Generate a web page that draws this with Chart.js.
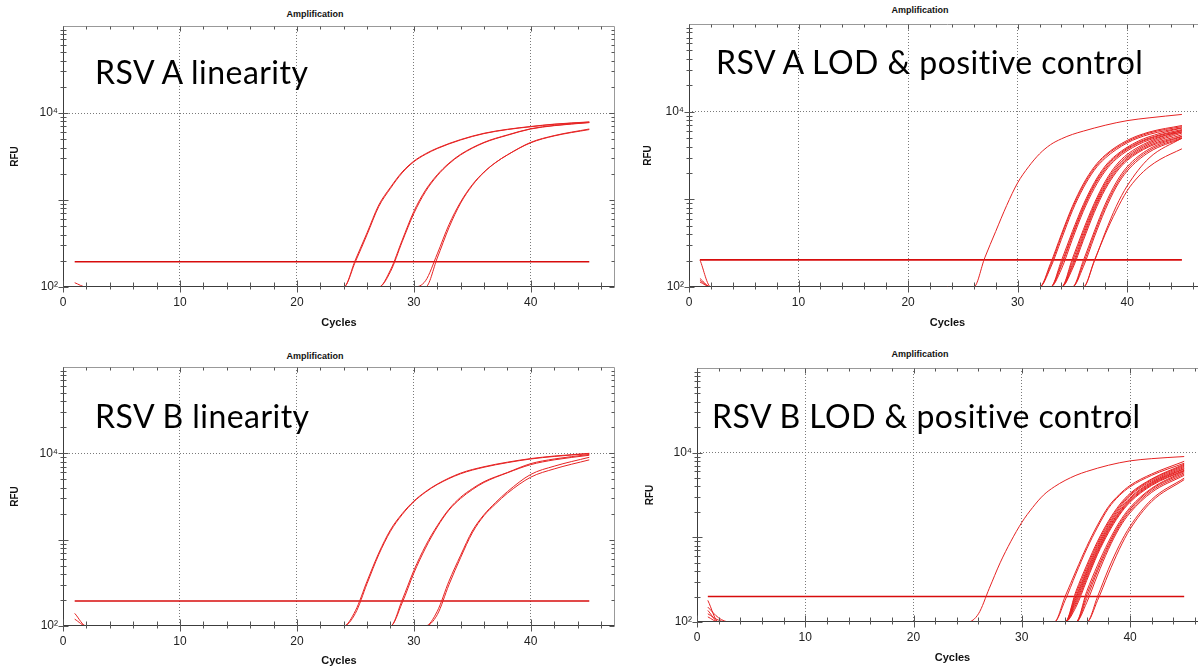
<!DOCTYPE html>
<html>
<head>
<meta charset="utf-8">
<script src="https://cdn.jsdelivr.net/npm/chart.js@4.4.0/dist/chart.umd.min.js"></script>
<style>
  html, body { margin: 0; padding: 0; background: #fff; }
  body { width: 1198px; height: 670px; overflow: hidden; position: relative; }
  canvas { position: absolute; }
  .ttl { position: absolute; font: bold 9px "Liberation Sans", Arial, sans-serif; color: #111; transform: translateX(-50%); white-space: nowrap; }
  .big { position: absolute; font: 32px Lato, sans-serif; line-height: 32px; letter-spacing: 0.45px; color: #000; white-space: nowrap; }
</style>
</head>
<body>
<div class="ttl" style="left:315px;top:9px">Amplification</div>
<div class="ttl" style="left:920px;top:5px">Amplification</div>
<div class="ttl" style="left:315px;top:351px">Amplification</div>
<div class="ttl" style="left:920px;top:349px">Amplification</div>

<canvas id="p1" width="630" height="335" style="left:0;top:0"></canvas>
<canvas id="p2" width="576" height="335" style="left:640px;top:0"></canvas>
<canvas id="p3" width="630" height="330" style="left:0;top:340px"></canvas>
<canvas id="p4" width="578" height="330" style="left:640px;top:340px"></canvas>

<div class="big" style="left:95px;top:56px">RSV A linearity</div>
<div class="big" style="left:716px;top:46px">RSV A LOD &amp; positive control</div>
<div class="big" style="left:95px;top:400px">RSV B linearity</div>
<div class="big" style="left:712px;top:400px">RSV B LOD &amp; positive control</div>

<script>
// tick labels
const xTicks = [0, 10, 20, 30, 40];
const yTicks = [100, 10000];
// threshold lines (RFU) per panel
const thresholdRfu = [195, 204, 195, 200];

// each curve: [cycle, RFU] pairs
const rsvALin = [
  [[1,112],[2,100],[24,100],[25,205],[26,420],[27,875],[28,1400],[29,2100],[30,2800],[31,3400],[32,3950],[34,4950],[36,5850],[38,6500],[40,7000],[42,7450],[45,7900]],
  [[1,100],[24,100],[25,195],[26,400],[27,840],[28,1360],[29,2050],[30,2750],[31,3350],[32,3900],[34,4900],[36,5800],[38,6450],[40,6950],[42,7400],[45,7850]],
  [[1,100],[27,100],[28,157],[29,345],[30,740],[31,1300],[32,1950],[33,2650],[34,3350],[36,4600],[38,5600],[40,6600],[42,7200],[45,7800]],
  [[1,100],[27,100],[28,150],[29,330],[30,700],[31,1250],[32,1900],[33,2600],[34,3300],[36,4550],[38,5550],[40,6550],[42,7150],[45,7750]],
  [[1,100],[30,100],[31,118],[32,240],[33,520],[34,950],[35,1500],[36,2100],[37,2700],[38,3300],[40,4600],[42,5500],[45,6550]],
  [[1,100],[31,100],[32,215],[33,480],[34,920],[35,1470],[36,2080],[37,2700],[38,3300],[40,4550],[42,5450],[45,6450]]
];

const rsvALod = [
  [[1,100],[26,100],[27,215],[28,430],[29,850],[30,1540],[31,2350],[32,3300],[33,4200],[34,4900],[35,5500],[36,6000],[38,7000],[40,7900],[42,8500],[45,9300]],
  [[1,125],[2,100],[32,100],[33,185],[34,400],[35,830],[36,1500],[37,2350],[38,3200],[40,4700],[42,5850],[45,6950]],
  [[1,100],[32,100],[33,175],[34,380],[35,790],[36,1430],[37,2250],[38,3100],[40,4550],[42,5700],[45,6750]],
  [[1,119],[2,100],[32,100],[33,165],[34,350],[35,740],[36,1350],[37,2150],[38,2950],[40,4400],[42,5500],[45,6550]],
  [[1,100],[33,100],[34,200],[35,430],[36,870],[37,1550],[38,2400],[39,3200],[41,4600],[43,5650],[45,6500]],
  [[1,204],[2,100],[33,100],[34,185],[35,400],[36,820],[37,1480],[38,2300],[39,3100],[41,4450],[43,5450],[45,6250]],
  [[1,100],[33,100],[34,175],[35,380],[36,780],[37,1420],[38,2200],[39,3000],[41,4350],[43,5350],[45,6050]],
  [[1,114],[2,100],[33,100],[34,160],[35,350],[36,730],[37,1330],[38,2100],[39,2880],[41,4200],[43,5200],[45,5850]],
  [[1,100],[34,100],[35,210],[36,450],[37,900],[38,1600],[39,2450],[40,3250],[42,4550],[45,6150]],
  [[1,100],[34,100],[35,195],[36,420],[37,850],[38,1520],[39,2330],[40,3100],[42,4400],[45,5900]],
  [[1,100],[34,100],[35,180],[36,390],[37,800],[38,1440],[39,2220],[40,2980],[42,4250],[45,5700]],
  [[1,100],[34,100],[35,170],[36,365],[37,760],[38,1370],[39,2120],[40,2870],[42,4100],[45,5450]],
  [[1,100],[34,100],[35,160],[36,340],[37,710],[38,1300],[39,2030],[40,2770],[42,3980],[45,5250]],
  [[1,100],[35,100],[36,200],[37,430],[38,880],[39,1560],[40,2350],[42,3750],[45,5200]],
  [[1,100],[35,100],[36,185],[37,400],[38,820],[39,1460],[40,2220],[42,3600],[45,5050]],
  [[1,100],[35,100],[36,170],[37,370],[38,760],[39,1380],[40,2100],[42,3450],[45,4950]],
  [[1,100],[36,100],[37,195],[38,420],[39,830],[40,1420],[42,2950],[45,5000]],
  [[1,100],[36,100],[37,200],[38,400],[39,740],[40,1250],[41,1800],[42,2350],[43,2850],[45,3770]]
];

const rsvBLin = [
  [[1,140],[2,100],[24,100],[25,150],[26,330],[27,700],[28,1300],[29,2000],[30,2800],[31,3600],[32,4400],[34,5900],[36,7000],[38,7900],[40,8700],[42,9300],[45,10000]],
  [[1,120],[2,100],[24,100],[25,140],[26,310],[27,670],[28,1250],[29,1950],[30,2750],[31,3550],[32,4350],[34,5800],[36,6900],[38,7800],[40,8600],[42,9200],[45,9900]],
  [[1,100],[28,100],[29,200],[30,440],[31,850],[32,1450],[33,2250],[34,3100],[35,3900],[36,4700],[38,6000],[40,7600],[42,8600],[45,9700]],
  [[1,100],[28,100],[29,185],[30,410],[31,800],[32,1400],[33,2200],[34,3000],[35,3800],[36,4600],[38,5950],[40,7400],[42,8400],[45,9500]],
  [[1,100],[31,100],[32,148],[33,330],[34,660],[35,1260],[36,1950],[37,2700],[38,3600],[40,5700],[42,7100],[45,9000]],
  [[1,100],[31,100],[32,135],[33,300],[34,620],[35,1200],[36,1900],[37,2600],[38,3450],[40,5300],[42,6600],[45,8400]]
];

const rsvBLod = [
  [[1,100],[25,100],[26,125],[27,250],[28,500],[29,900],[30,1500],[31,2250],[32,3150],[33,3950],[34,4700],[35,5400],[36,6000],[38,7100],[40,8000],[42,8500],[45,9000]],
  [[1,180],[2,100],[33,100],[34,200],[35,400],[36,780],[37,1400],[38,2300],[39,3200],[40,4100],[42,5600],[45,7900]],
  [[1,150],[2,112],[3,100],[33,100],[34,180],[35,370],[36,730],[37,1320],[38,2200],[39,3100],[40,3950],[42,5400],[45,7500]],
  [[1,137],[2,100],[34,100],[35,230],[36,470],[37,900],[38,1550],[39,2400],[40,3300],[42,4900],[45,7300]],
  [[1,125],[2,105],[3,100],[34,100],[35,215],[36,440],[37,850],[38,1480],[39,2300],[40,3200],[42,4800],[45,7100]],
  [[1,115],[2,100],[34,100],[35,200],[36,410],[37,800],[38,1400],[39,2200],[40,3100],[42,4650],[45,6900]],
  [[1,100],[34,100],[35,190],[36,390],[37,760],[38,1340],[39,2100],[40,2950],[42,4500],[45,6700]],
  [[1,100],[34,100],[35,180],[36,370],[37,720],[38,1280],[39,2000],[40,2850],[42,4400],[45,6500]],
  [[1,100],[34,100],[35,170],[36,350],[37,690],[38,1230],[39,1950],[40,2750],[42,4300],[45,6400]],
  [[1,100],[34,100],[35,160],[36,330],[37,660],[38,1180],[39,1880],[40,2680],[42,4200],[45,6200]],
  [[1,100],[34,100],[35,150],[36,310],[37,630],[38,1130],[39,1820],[40,2600],[42,4100],[45,6100]],
  [[1,100],[35,100],[36,230],[37,470],[38,880],[39,1500],[40,2250],[42,3800],[45,6000]],
  [[1,100],[35,100],[36,210],[37,430],[38,820],[39,1420],[40,2150],[42,3700],[45,5800]],
  [[1,100],[35,100],[36,190],[37,400],[38,770],[39,1350],[40,2050],[42,3550],[45,5600]],
  [[1,100],[35,100],[36,170],[37,360],[38,720],[39,1280],[40,1950],[42,3400],[45,5400]],
  [[1,100],[36,100],[37,200],[38,420],[39,800],[40,1350],[42,2800],[45,5000]],
  [[1,100],[36,100],[37,180],[38,370],[39,720],[40,1250],[42,2650],[45,4800]]
];

Chart.defaults.font.family = '"Liberation Sans", Arial, sans-serif';

const red = 'rgb(230,35,35)';
const sup = { 2: '\u00b2', 3: '\u00b3', 4: '\u2074', 5: '\u2075' };

// axis frame with minor ticks on all four sides
const frame = {
  id: 'frame',
  afterDatasetsDraw(chart) {
    const { ctx, chartArea: a, scales: { x, y } } = chart;
    const L = Math.round(a.left) + 0.5, R = Math.round(a.right) - 0.5;
    const T = Math.round(a.top) + 0.5, B = Math.round(a.bottom) - 0.5;
    ctx.save();
    ctx.lineWidth = 1;
    ctx.strokeStyle = '#999';
    ctx.beginPath(); ctx.moveTo(L, T); ctx.lineTo(R, T); ctx.lineTo(R, B); ctx.stroke();
    ctx.strokeStyle = '#3c3c3c';
    ctx.beginPath(); ctx.moveTo(L, T); ctx.lineTo(L, B); ctx.lineTo(R, B); ctx.stroke();
    ctx.strokeStyle = '#555';
    ctx.beginPath();
    for (let c = 0; c <= x.max; c += 2) {
      const px = Math.round(x.getPixelForValue(c)) + 0.5;
      const major = c % 10 === 0;
      ctx.moveTo(px, B - (major ? 6 : 4)); ctx.lineTo(px, B + (major ? 6 : 3));
      ctx.moveTo(px, T); ctx.lineTo(px, T + (major ? 5 : 3));
    }
    for (let e = 2; e <= 4; e++) {
      for (let m = 1; m <= 9; m++) {
        const py = Math.round(y.getPixelForValue(m * Math.pow(10, e))) + 0.5;
        const w = m === 1 ? 5 : 3;
        ctx.moveTo(L - w, py); ctx.lineTo(L + w, py);
        ctx.moveTo(R - w, py); ctx.lineTo(R, py);
      }
    }
    ctx.stroke();
    ctx.restore();
  }
};

function makeChart(id, curves, thr, box) {
  const datasets = curves.map(c => ({
    data: c.map(p => ({ x: p[0], y: p[1] })),
    borderColor: red,
    borderWidth: 1,
    pointRadius: 0,
    cubicInterpolationMode: 'monotone'
  }));
  datasets.push({
    data: [{ x: 1, y: thr }, { x: 45, y: thr }],
    borderColor: 'rgb(215,12,12)',
    borderWidth: 1.6,
    pointRadius: 0
  });
  new Chart(document.getElementById(id), {
    type: 'line',
    data: { datasets },
    options: {
      responsive: false,
      animation: false,
      events: [],
      layout: { padding: { top: box.top, right: box.right, left: 0, bottom: 0 } },
      plugins: { legend: { display: false }, tooltip: { enabled: false } },
      scales: {
        x: {
          type: 'linear', min: 0, max: 47.2,
          afterBuildTicks: s => { s.ticks = xTicks.map(v => ({ value: v })); },
          afterFit: s => { s.height = box.xh; },
          grid: { drawTicks: false, color: c => (c.tick && c.tick.value > 0) ? '#7a7a7a' : 'rgba(0,0,0,0)' },
          border: { display: false, dash: [1, 2] },
          ticks: { padding: 8, color: '#222', font: { size: 12 }, maxRotation: 0 },
          title: { display: true, text: 'Cycles', color: '#111', font: { size: 11, weight: 'bold' }, padding: { top: 0, bottom: box.xtp } }
        },
        y: {
          type: 'logarithmic', min: 100, max: 100000,
          afterBuildTicks: s => { s.ticks = yTicks.map(v => ({ value: v })); },
          afterFit: s => { s.width = box.yw; },
          grid: { drawTicks: false, color: c => (c.tick && c.tick.value === 10000) ? '#7a7a7a' : 'rgba(0,0,0,0)' },
          border: { display: false, dash: [1, 2] },
          ticks: {
            padding: 5, color: '#222', font: { size: 12 },
            callback: v => '10' + sup[Math.round(Math.log10(v))]
          },
          title: { display: true, text: 'RFU', color: '#111', font: { size: 10, weight: 'bold' }, padding: { top: box.ytp, bottom: 0 } }
        }
      }
    },
    plugins: [frame]
  });
}

makeChart('p1', rsvALin, thresholdRfu[0], { top: 26, right: 15, yw: 63, xh: 48, xtp: 5, ytp: 9 });
makeChart('p2', rsvALod, thresholdRfu[1], { top: 24, right: 10, yw: 49, xh: 48, xtp: 5, ytp: 2 });
makeChart('p3', rsvBLin, thresholdRfu[2], { top: 27, right: 15, yw: 63, xh: 44, xtp: 2, ytp: 9 });
makeChart('p4', rsvBLod, thresholdRfu[3], { top: 28, right: 10, yw: 57, xh: 48, xtp: 5, ytp: 4 });
</script>
</body>
</html>
